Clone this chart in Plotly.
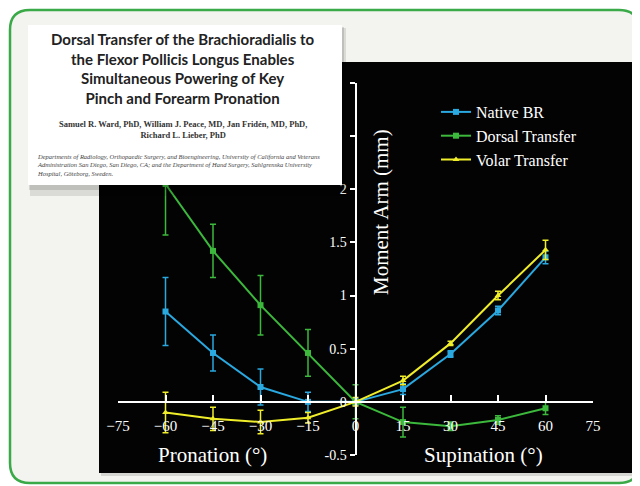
import plotly.graph_objects as go

# uhly predlaktia (stupne) a momentove ramena (mm)
angles = [-60, -45, -30, -15, 0, 15, 30, 45, 60]

native_br = [0.85, 0.46, 0.14, 0.0, 0.0, 0.12, 0.45, 0.86, 1.36]
native_err = [0.32, 0.17, 0.17, 0.09, 0.03, 0.05, 0.03, 0.04, 0.06]

dorsal = [2.05, 1.42, 0.91, 0.46, 0.0, -0.19, -0.23, -0.17, -0.06]
dorsal_err = [0.48, 0.25, 0.28, 0.22, 0.16, 0.14, 0.04, 0.04, 0.06]

volar = [-0.10, -0.16, -0.19, -0.15, 0.0, 0.20, 0.55, 1.00, 1.43]
volar_err = [0.19, 0.11, 0.11, 0.05, 0.04, 0.04, 0.02, 0.04, 0.09]

x_ticks = [-75, -60, -45, -30, -15, 0, 15, 30, 45, 60, 75]
y_ticks = [-0.5, 0, 0.5, 1, 1.5, 2, 2.5, 3]
y_ticktext = ['-0.5', '0', '0.5', '1', '1.5', '2', '', '']   # 2.5 a 3 su zakryte kartou

series = [
    ('Native BR', native_br, native_err, '#2aa8e0', 'square'),
    ('Dorsal Transfer', dorsal, dorsal_err, '#3cb83c', 'square'),
    ('Volar Transfer', volar, volar_err, '#f0ee2a', 'triangle-up'),
]

OFF = 8   # stranka ma okraj 8px, vsetko posunieme
W, H = 640 - OFF, 486 - OFF
L, R, T, B = 118, 593, 83, 455   # okraje plochy grafu v pixeloch okna
XR = (-75, 75)
YR = (-0.5, 3)
SERIF = 'Liberation Serif, Times New Roman, serif'


def px(x):   # pixel okna -> paper
    return (x - L) / (R - L)


def py(y):
    return (B - y) / (B - T)


fig = go.Figure()
for name, vals, err, col, sym in series:
    fig.add_trace(go.Scatter(
        x=angles, y=vals, name=name, mode='lines+markers',
        line=dict(color=col, width=2),
        marker=dict(color=col, symbol=sym, size=6),
        error_y=dict(type='data', array=err, color=col, thickness=1.5, width=3),
    ))

# ram, cierny panel a karta s nazvom clanku
x0, x1, y0, y1, r = px(10), px(639), py(10), py(483), 20
rx, ry = r / (R - L), r / (B - T)
frame = (f'M {x0 + rx},{y0} L {x1 - rx},{y0} Q {x1},{y0} {x1},{y0 - ry} '
         f'L {x1},{y1 + ry} Q {x1},{y1} {x1 - rx},{y1} L {x0 + rx},{y1} '
         f'Q {x0},{y1} {x0},{y1 + ry} L {x0},{y0 - ry} Q {x0},{y0} {x0 + rx},{y0} Z')

shapes = [
    dict(type='path', path=frame, xref='paper', yref='paper', layer='below',
         fillcolor='#f3f3ef', line=dict(color='#3aa948', width=2.5)),
    dict(type='rect', xref='paper', yref='paper', layer='below',
         x0=px(101), x1=px(639), y0=py(64), y1=py(476),
         fillcolor='rgba(0,0,0,0.12)', line_width=0),
    dict(type='rect', xref='paper', yref='paper', layer='below',
         x0=px(99), x1=px(637), y0=py(62), y1=py(473),
         fillcolor='#030303', line_width=0),
    dict(type='rect', xref='paper', yref='paper', layer='above',
         x0=px(30), x1=px(346), y0=py(28), y1=py(196),
         fillcolor='rgba(0,0,0,0.10)', line_width=0),
    dict(type='rect', xref='paper', yref='paper', layer='above',
         x0=px(29), x1=px(344), y0=py(27), y1=py(190),
         fillcolor='rgba(0,0,0,0.12)', line_width=0),
    dict(type='rect', xref='paper', yref='paper', layer='above',
         x0=px(28), x1=px(342), y0=py(25), y1=py(185),
         fillcolor='#ffffff', line_width=0),
]

title_txt = ('Dorsal Transfer of the Brachioradialis to<br>the Flexor Pollicis Longus Enables<br>'
             'Simultaneous Powering of Key<br>Pinch and Forearm Pronation')
authors_txt = 'Samuel R. Ward, PhD, William J. Peace, MD, Jan Fridén, MD, PhD,<br>Richard L. Lieber, PhD'
affil_txt = ('Departments of Radiology, Orthopaedic Surgery, and Bioengineering, University of California and Veterans<br>'
             'Administration San Diego, San Diego, CA; and the Department of Hand Surgery, Sahlgrenska University<br>'
             'Hospital, Göteborg, Sweden.')

annotations = [
    dict(text=title_txt, x=px(183), y=py(68), align='center',
         font=dict(family='Lato, Noto Sans, sans-serif', size=15, color='#222222', weight='bold')),
    dict(text=authors_txt, x=px(183), y=py(129), align='center',
         font=dict(family=SERIF, size=8.5, color='#333333', weight='bold')),
    dict(text=affil_txt, x=px(35), y=py(165), xanchor='left', align='left',
         font=dict(family=SERIF, size=6.5, color='#444444', style='italic')),
    dict(text='Moment Arm (mm)', x=px(381), y=py(212), textangle=-90,
         font=dict(family=SERIF, size=21, color='white')),
    dict(text='Pronation (°)', x=px(212), y=py(455),
         font=dict(family=SERIF, size=21, color='white')),
    dict(text='Supination (°)', x=px(483), y=py(455),
         font=dict(family=SERIF, size=21, color='white')),
]
for a in annotations:
    a.update(xref='paper', yref='paper', showarrow=False)
    a.setdefault('xanchor', 'center')
    a.setdefault('yanchor', 'middle')

fig.update_layout(
    width=W, height=H,
    margin=dict(l=L - OFF, r=640 - R, t=T - OFF, b=486 - B, pad=0),
    paper_bgcolor='white', plot_bgcolor='rgba(0,0,0,0)',
    shapes=shapes, annotations=annotations,
    showlegend=True,
    legend=dict(x=px(436), y=py(95), xanchor='left', yanchor='top',
                bgcolor='rgba(0,0,0,0)', itemwidth=30,
                font=dict(family=SERIF, size=16, color='white')),
    xaxis=dict(range=XR, anchor='free', position=(0 - YR[0]) / (YR[1] - YR[0]),
               showline=True, linecolor='white', linewidth=2, showgrid=False, zeroline=False,
               ticks='inside', ticklen=6, tickwidth=2, tickcolor='white',
               tickvals=x_ticks, ticklabelstandoff=10,
               tickfont=dict(family=SERIF, size=15, color='white')),
    yaxis=dict(range=YR, anchor='free', position=(0 - XR[0]) / (XR[1] - XR[0]),
               showline=True, linecolor='white', linewidth=2, showgrid=False, zeroline=False,
               ticks='outside', ticklen=5, tickwidth=2, tickcolor='white',
               tickvals=y_ticks, ticktext=y_ticktext,
               tickfont=dict(family=SERIF, size=14, color='white')),
)

fig.write_html('out.html')
